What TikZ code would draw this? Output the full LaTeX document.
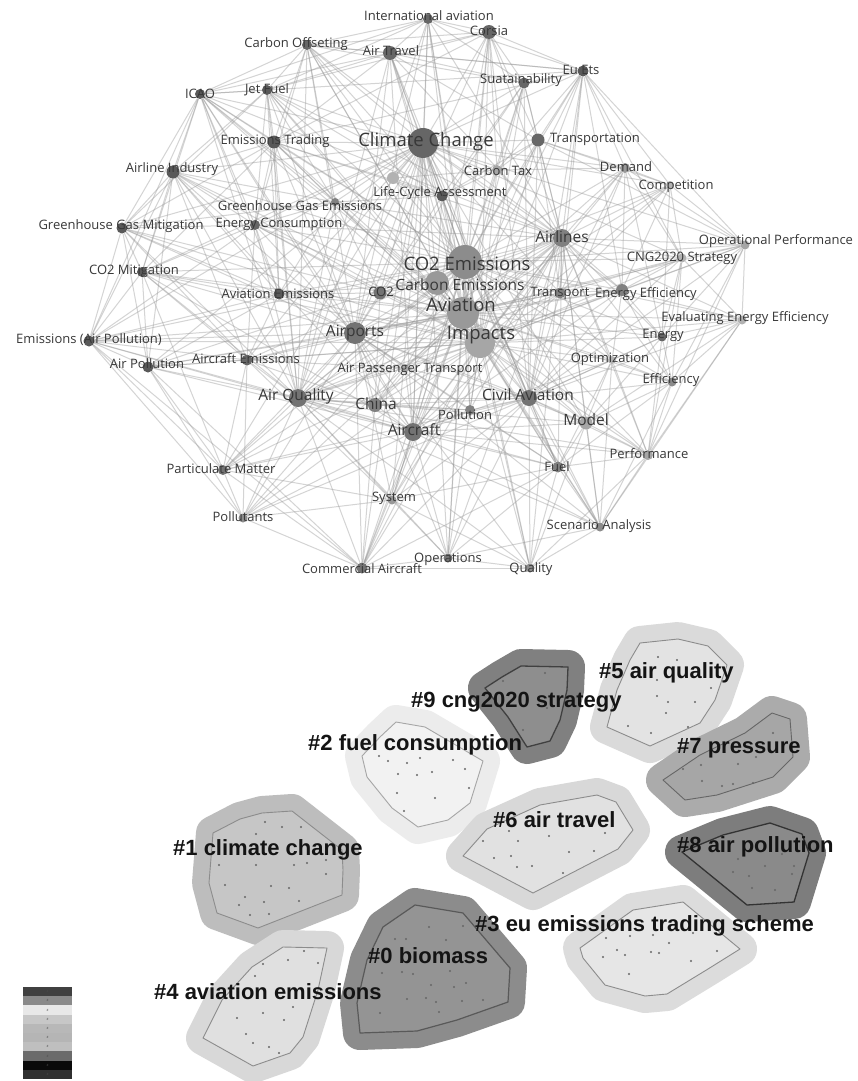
\documentclass[tikz,border=0pt]{standalone}
\usepackage{fontspec}
\setmainfont{Open Sans}
\newfontfamily\clufont{Liberation Sans}
\pgfdeclarelayer{bg}
\pgfdeclarelayer{fg}
\pgfsetlayers{bg,main,fg}
\definecolor{halo0}{HTML}{8C8C8C}\definecolor{in0}{HTML}{949494}
\definecolor{halo1}{HTML}{BDBDBD}\definecolor{in1}{HTML}{C6C6C6}
\definecolor{halo2}{HTML}{ECECEC}\definecolor{in2}{HTML}{F2F2F2}
\definecolor{halo3}{HTML}{DCDCDC}\definecolor{in3}{HTML}{E6E6E6}
\definecolor{halo4}{HTML}{D8D8D8}\definecolor{in4}{HTML}{E0E0E0}
\definecolor{halo5}{HTML}{DADADA}\definecolor{in5}{HTML}{E3E3E3}
\definecolor{halo6}{HTML}{D8D8D8}\definecolor{in6}{HTML}{E1E1E1}
\definecolor{halo7}{HTML}{ABABAB}\definecolor{in7}{HTML}{A6A6A6}
\definecolor{halo8}{HTML}{7D7D7D}\definecolor{in8}{HTML}{8A8A8A}
\definecolor{halo9}{HTML}{808080}\definecolor{in9}{HTML}{8E8E8E}
\tikzset{
    kw/.style={circle, inner sep=0pt, draw=none},
    kwlbls/.style={font=\fontsize{13}{15}\selectfont, text=black!78, inner sep=0pt},
    kwlblm/.style={font=\fontsize{15.5}{17}\selectfont, text=black!78, inner sep=0pt},
    kwlbll/.style={font=\fontsize{18.5}{20}\selectfont, text=black!78, inner sep=0pt},
    edge/.style={draw=black!40, opacity=0.42, line width=1pt},
    hull/.style={line width=0.9pt, draw=black!45, line join=round},
    halo/.style={preaction={draw=#1, fill=#1, line width=34pt, line join=round}},
    dot/.style={fill=black!60},
    clulbl/.style={font=\clufont\bfseries\fontsize{22}{24}\selectfont, text=black!92, inner sep=0pt, anchor=base west},
    legcell/.style={minimum width=49pt, minimum height=9.2pt, inner sep=0pt, font=\fontsize{3}{3}\selectfont, text=black!70},
}

\begin{document}
\begin{tikzpicture}[x=1pt, y=-1pt]
\useasboundingbox (0,0) rectangle (857,1081);
\begin{pgfonlayer}{bg}
\fill[white] (0,0) rectangle (857,1081);
\end{pgfonlayer}

% ── keyword network: small labels ──
\foreach \n/\x/\y/\dm/\g/\tx/\ty/\lab in {
    intav/428/19/10/60/429/16/International aviation,
    offs/307/45/10/60/296/44/Carbon Offseting,
    airtr/390/53/14/60/391/51/Air Travel,
    corsia/489/32/14/60/489/31/Corsia,
    icao/200/94/10/65/200/94/ICAO,
    jet/267/90/10/65/267/90/Jet Fuel,
    susta/524/83/11/60/521/80/Suatainability,
    euets/583/71/11/65/581/70/Eu Ets,
    etrade/274/142/13/65/275/141/Emissions Trading,
    transp/538/140/13/60/595/139/Transportation,
    ctax/497/170/10/35/498/171/Carbon Tax,
    demand/625/168/10/40/626/167/Demand,
    compet/670/185/8/30/676/186/Competition,
    ailind/173/172/13/65/172/169/Airline Industry,
    lca/442/196/11/65/440/193/Life-Cycle Assessment,
    ghge/335/202/8/50/300/206/Greenhouse Gas Emissions,
    ghgm/122/228/11/65/121/226/Greenhouse Gas Mitigation,
    econs/255/225/10/60/279/224/Energy Consumption,
    opperf/745/245/9/35/776/241/Operational Performance,
    cng/682/258/9/30/682/258/CNG2020 Strategy,
    co2m/142/272/10/65/134/271/CO2 Mitigation,
    co2/380/293/13/55/381/292/CO2,
    avem/279/294/11/65/278/294/Aviation Emissions,
    transport/560/293/11/50/560/293/Transport,
    eneff/622/290/12/50/646/294/Energy Efficiency,
    eval/742/320/9/30/745/318/Evaluating Energy Efficiency,
    energy/662/337/9/60/663/335/Energy,
    emap/89/341/11/65/89/340/Emissions (Air Pollution),
    airpol/148/367/11/65/147/364/Air Pollution,
    acem/247/360/11/60/246/359/Aircraft Emissions,
    apt/405/368/8/35/410/369/Air Passenger Transport,
    optim/612/360/8/30/610/359/Optimization,
    effic/672/382/9/45/671/380/Efficiency,
    pollution/470/410/10/50/465/415/Pollution,
    perf/648/455/10/35/649/454/Performance,
    fuel/558/467/11/50/557/467/Fuel,
    pm/223/470/10/55/221/469/Particulate Matter,
    system/392/500/9/40/394/498/System,
    pollut/243/518/9/45/243/517/Pollutants,
    scen/600/527/9/45/599/526/Scenario Analysis,
    ops/448/558/9/55/448/559/Operations,
    cac/362/568/11/55/362/569/Commercial Aircraft,
    qual/530/568/9/45/531/569/Quality} {
    \node[kw, minimum size=\dm pt, fill=black!\g] (\n) at (\x,\y) {};
    \begin{pgfonlayer}{fg}
    \node[kwlbls] (\n-t) at (\tx,\ty) {\lab};
    \end{pgfonlayer}
}

% ── medium labels ──
\foreach \n/\x/\y/\dm/\g/\tx/\ty/\lab in {
    airlines/562/238/18/50/562/237/Airlines,
    cem/437/283/24/40/460/285/Carbon Emissions,
    airp/355/333/22/55/355/333/Airports,
    airq/298/398/18/55/296/396/Air Quality,
    civil/529/398/16/55/528/395/Civil Aviation,
    china/375/405/14/50/376/404/China,
    model/586/423/13/35/586/420/Model,
    acraft/413/432/18/55/414/430/Aircraft} {
    \node[kw, minimum size=\dm pt, fill=black!\g] (\n) at (\x,\y) {};
    \begin{pgfonlayer}{fg}
    \node[kwlblm] (\n-t) at (\tx,\ty) {\lab};
    \end{pgfonlayer}
}

% ── hubs ──
\foreach \n/\x/\y/\dm/\g/\tx/\ty/\lab in {
    cc/423/143/30/60/426/142/Climate Change,
    co2e/465/262/34/45/467/264/CO2 Emissions,
    avi/463/313/32/40/461/305/Aviation,
    imp/480/343/30/35/481/335/Impacts} {
    \node[kw, minimum size=\dm pt, fill=black!\g] (\n) at (\x,\y) {};
    \begin{pgfonlayer}{fg}
    \node[kwlbll] (\n-t) at (\tx,\ty) {\lab};
    \end{pgfonlayer}
}
\node[kw, minimum size=12pt, fill=black!30] (lc2) at (393,178) {};

% ── co-occurrence links ──
\begin{pgfonlayer}{bg}
\foreach \s/\ts in {
    cc/{intav,offs,airtr,corsia,icao,jet,etrade,susta,euets,transp,lca,lc2,ghge,co2e,avi,imp,airp,cem,airlines,co2,econs,ailind,ghgm,acraft,china,civil,ctax},
    cc/{emap,airpol,co2m,avem,acem,airq,transport,eneff,demand,compet,opperf,cng,pm,system,cac,ops,fuel,model},
    co2e/{airtr,intav,corsia,icao,jet,etrade,susta,transp,ctax,airlines,avi,imp,airp,cem,co2,avem,transport,eneff,airq,civil,china,acraft,econs,ghge,co2m,ailind,cng,opperf,demand,energy,optim,model},
    co2e/{emap,airpol,acem,pm,pollut,system,cac,ops,qual,fuel,scen,perf,effic,eval,compet,apt,pollution,offs,euets,lca,lc2},
    avi/{intav,airtr,corsia,offs,icao,jet,etrade,susta,euets,airlines,imp,airp,cem,co2,airq,civil,china,acraft,pollution,fuel,model,eneff,transport,ops,qual,cac,system,avem,acem,econs},
    avi/{emap,airpol,co2m,ghgm,ailind,ghge,pm,pollut,scen,perf,effic,eval,energy,optim,opperf,cng,demand,compet,transp,ctax,lca,apt},
    imp/{airtr,corsia,susta,euets,transp,airlines,airp,airq,civil,china,acraft,pollution,fuel,model,perf,scen,ops,qual,system,cac,acem,airpol,pm,optim,energy,effic,eneff,apt,co2},
    imp/{emap,co2m,ghgm,ailind,icao,jet,etrade,offs,intav,ghge,econs,avem,pollut,eval,opperf,cng,demand,compet,ctax,lca,transport},
    airp/{icao,jet,etrade,ailind,ghgm,econs,avem,acem,airq,china,acraft,civil,pollution,apt,co2,emap,airpol,co2m,system,cac,ops,pm},
    airp/{intav,offs,airtr,corsia,susta,pollut,qual,fuel,scen,model,transport,eneff},
    airlines/{euets,susta,corsia,transp,demand,compet,opperf,cng,eneff,transport,energy,optim,civil,model,fuel,effic,perf,eval,acraft,ctax,offs,airtr},
    airlines/{intav,icao,jet,etrade,econs,ghge,co2,cem,airp,airq,china,ops,qual,scen,cac,system,pollution,apt},
    airq/{intav,offs,airtr,icao,jet,etrade,ailind,ghgm,co2m,ghge,econs,civil,fuel,model,perf,transport,eneff},
    acraft/{intav,airtr,corsia,icao,ailind,co2m,emap,airpol,scen,perf,model,eneff,transport,optim},
    civil/{airtr,corsia,susta,euets,transp,demand,energy,optim,effic,perf,cng,opperf,eval,pm,pollut},
    euets/{corsia,susta,transp,demand,compet,opperf,transport,eneff,ctax,offs,intav,etrade,icao,airtr,cng},
    corsia/{intav,airtr,offs,susta,transp,jet,etrade,ctax},
    intav/{offs,airtr,susta,icao,jet},
    offs/{airtr,icao,jet,etrade,susta,ghge,econs,lca},
    icao/{jet,etrade,ailind,ghgm,emap,co2m,ghge,econs,avem,airtr},
    jet/{etrade,ailind,ghge,econs,avem,airtr,lca,ghgm},
    etrade/{ailind,ghge,econs,ghgm,co2m,avem,lca,airtr},
    ailind/{ghgm,co2m,emap,econs,ghge,avem,acem,airpol},
    ghgm/{co2m,emap,econs,ghge,airpol,avem,acem},
    co2m/{emap,airpol,avem,acem,econs,pm},
    emap/{airpol,pm,pollut,acem,avem,econs,airq,cac},
    airpol/{pm,pollut,acem,airq,cac,avem},
    acem/{pm,pollut,airq,avem,econs,apt,china,system},
    airq/{pm,pollut,system,cac,china,acraft,ops,qual,apt,pollution,scen},
    pm/{pollut,cac,acraft,system},
    pollut/{cac,system,acraft},
    cac/{system,ops,qual,acraft,civil,fuel,china},
    system/{ops,qual,acraft,fuel,civil},
    ops/{qual,scen,fuel,civil,acraft},
    qual/{scen,fuel,civil,model,perf},
    scen/{fuel,model,perf,civil,effic,eval,optim},
    fuel/{model,perf,civil,effic,optim,acraft,pollution},
    model/{perf,civil,effic,optim,energy,eval},
    perf/{effic,eval,opperf,energy,optim,cng},
    effic/{eval,energy,optim,eneff,opperf,cng},
    energy/{eval,optim,eneff,cng,opperf,compet,demand},
    eneff/{transport,cng,opperf,eval,compet,demand,optim,civil},
    transport/{cng,demand,compet,transp,civil,optim},
    cng/{opperf,compet,demand,eval},
    opperf/{compet,demand,eval,transp},
    demand/{compet,transp,ctax},
    compet/{transp},
    transp/{susta,ctax,lca,airtr},
    susta/{airtr,ctax,lca},
    ctax/{lca,lc2},
    lca/{lc2,ghge,co2,cem},
    ghge/{econs,avem,co2},
    civil/{china,acraft,pollution,apt},
    china/{acraft,pollution,apt,co2},
    acraft/{pollution,apt},
    cem/{co2,avem,airq},
    avem/{co2,econs},
    econs/{co2}} {
    \foreach \tg in \ts {
        \draw[edge] (\s) -- (\tg);
    }
}
\end{pgfonlayer}

% ── cluster map ──
% #2 fuel consumption
\draw[hull, draw=black!35, fill=in2, halo=halo2] (396,722) -- (425,727) -- (483,761) -- (470,803) -- (448,820) -- (418,827) -- (392,808) -- (367,777) -- (362,756) -- (380,737) -- cycle;
\foreach \x/\y in {379/756,388/761,407/763,420/758,453/760,465/769,398/774,417/775,432/772,469/788,397/793,435/798,404/811}
    \fill[dot] (\x,\y) circle (1.1);
% #1 climate change
\draw[hull, fill=in1, halo=halo1] (213,833) -- (240,819) -- (262,813) -- (292,811) -- (342,850) -- (343,870) -- (342,895) -- (258,928) -- (217,913) -- (209,883) -- cycle;
\foreach \x/\y in {265/822,282/827,301/827,256/834,219/865,256/865,294/865,307/863,326/860,326/874,225/885,271/886,289/888,245/897,264/902,299/901,239/905,250/915,269/914}
    \fill[dot] (\x,\y) circle (1.1);
% #4 aviation emissions
\draw[hull, fill=in4, halo=halo4] (283,947) -- (327,948) -- (318,990) -- (303,1037) -- (290,1053) -- (253,1066) -- (203,1038) -- (222,1000) -- (252,967) -- cycle;
\foreach \x/\y in {304/951,288/960,263/964,318/963,255/976,293/1007,263/1013,237/1018,284/1020,246/1034,253/1043,269/1047,279/1053}
    \fill[dot] (\x,\y) circle (1.1);
% #6 air travel
\draw[hull, fill=in6, halo=halo6] (597,795) -- (616,802) -- (633,830) -- (618,849) -- (533,893) -- (463,856) -- (487,829) -- (540,805) -- cycle;
\foreach \x/\y in {509/831,483/841,518/841,549/836,605/833,494/858,511/856,517/867,532/866,569/852,594/851,563/873}
    \fill[dot] (\x,\y) circle (1.1);
% #5 air quality
\draw[hull, fill=in5, halo=halo5] (640,643) -- (678,639) -- (708,646) -- (727,665) -- (715,700) -- (700,723) -- (650,746) -- (607,727) -- (617,690) -- (630,660) -- cycle;
\foreach \x/\y in {658/657,677/660,657/680,711/688,657/696,668/702,695/702,666/713,628/726,688/727,651/733}
    \fill[dot] (\x,\y) circle (1.1);
% #7 pressure
\draw[hull, draw=black!60, fill=in7, halo=halo7] (772,713) -- (790,719) -- (793,757) -- (773,777) -- (717,795) -- (685,800) -- (663,780) -- (700,755) -- (745,733) -- cycle;
\foreach \x/\y in {773/733,756/744,701/765,738/764,756/757,702/781,722/786,733/784,753/783,683/769}
    \fill[dot] (\x,\y) circle (1.1);
% #9 cng2020 strategy
\draw[hull, draw=black!75, line width=1.3pt, fill=in9, halo=halo9] (521,666) -- (568,667) -- (567,690) -- (560,720) -- (550,741) -- (527,747) -- (508,717) -- (485,688) -- (502,677) -- cycle;
\foreach \x/\y in {503/681,545/673,523/730,547/708}
    \fill[dot] (\x,\y) circle (1.1);
% #3 eu emissions trading scheme
\draw[hull, fill=in3, halo=halo3] (633,910) -- (683,902) -- (740,949) -- (708,969) -- (667,994) -- (645,996) -- (605,985) -- (583,958) -- (580,948) -- cycle;
\foreach \x/\y in {606/938,630/936,653/935,669/943,617/950,625/955,651/952,659/953,603/957,717/951,691/961,629/974,693/933}
    \fill[dot] (\x,\y) circle (1.1);
% #8 air pollution
\draw[hull, draw=black!80, line width=1.3pt, fill=in8, halo=halo8] (723,835) -- (770,823) -- (802,834) -- (809,853) -- (794,902) -- (747,905) -- (682,852) -- cycle;
\foreach \x/\y in {738/859,765/866,782/854,794/866,733/872,749/876,792/874,752/888,775/890}
    \fill[dot] (\x,\y) circle (1.1);
% #0 biomass
\draw[hull, draw=black!65, line width=1.2pt, fill=in0, halo=halo0] (415,905) -- (463,913) -- (510,968) -- (508,1002) -- (457,1020) -- (417,1031) -- (360,1033) -- (357,1003) -- (367,960) -- (383,927) -- cycle;
\foreach \x/\y in {429/927,463/926,395/939,406/939,446/940,382/973,402/972,413/974,450/971,431/985,454/987,466/983,407/999,426/998,436/1002,462/1001,380/1013,439/1012,483/1000}
    \fill[dot] (\x,\y) circle (1.1);

% ── cluster labels ──
\node[clulbl] (c9) at (411,707) {\#9 cng2020 strategy};
\node[clulbl] (c5) at (599,678) {\#5 air quality};
\node[clulbl] (c2) at (308,750) {\#2 fuel consumption};
\node[clulbl] (c7) at (677,753) {\#7 pressure};
\node[clulbl] (c6) at (493,827) {\#6 air travel};
\node[clulbl] (c1) at (173,855) {\#1 climate change};
\node[clulbl] (c8) at (677,852) {\#8 air pollution};
\node[clulbl] (c3) at (475,931) {\#3 eu emissions trading scheme};
\node[clulbl] (c0) at (368,963) {\#0 biomass};
\node[clulbl] (c4) at (154,999) {\#4 aviation emissions};

% ── legend ──
\foreach \g [count=\i from 0] in {75,46,9,22,28,29,25,58,96,81}
    \node[legcell, fill=black!\g] (leg\i) at (47.5,991.6+9.2*\i) {\#};

\end{tikzpicture}
\end{document}
